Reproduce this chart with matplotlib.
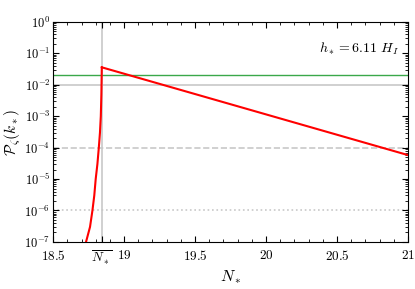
import numpy as np
import matplotlib
matplotlib.use("Agg")
import matplotlib.pyplot as plt
from matplotlib.ticker import MultipleLocator, LogLocator, NullFormatter, FuncFormatter

plt.rcParams["mathtext.fontset"] = "cm"
plt.rcParams["font.family"] = "serif"
plt.rcParams["font.serif"] = ["DejaVu Serif"]

# values
N_bar = 18.843
N_rise = [18.732, 18.760, 18.777, 18.790, 18.800, 18.812, 18.822, 18.830, 18.836, 18.840, 18.843]
P_rise = [1e-7, 3e-7, 1e-6, 3e-6, 1e-5, 3e-5, 1e-4, 3e-4, 1e-3, 5e-3, 0.036]
N_fall = [18.843, 21.0]
P_fall = [0.036, 5.8e-5]
P_green = 0.0205
P_refs = [1e-2, 1e-4, 1e-6]
ref_styles = ["-", "--", ":"]

fig = plt.figure(figsize=(4.15, 2.89), dpi=100)
ax = fig.add_axes([0.128, 0.163, 0.855, 0.761])

ax.axvline(N_bar, color="#c8c8c8", lw=1.2, zorder=1)
for p, ls in zip(P_refs, ref_styles):
    ax.axhline(p, color="#c8c8c8", lw=1.2, ls=ls, zorder=1)
ax.axhline(P_green, color="#3aa84a", lw=1.0, zorder=2)
ax.plot(N_rise, P_rise, color="red", lw=1.5, zorder=3)
ax.plot(N_fall, P_fall, color="red", lw=1.5, zorder=3)

ax.set_yscale("log")
ax.set_xlim(18.5, 21)
ax.set_ylim(1e-7, 1)

ax.set_xticks([18.5, N_bar, 19, 19.5, 20, 20.5, 21])
ax.set_xticklabels(["$18.5$", r"$\overline{N_*}$", "$19$", "$19.5$", "$20$", "$20.5$", "$21$"])
ax.xaxis.set_minor_locator(MultipleLocator(0.1))
ax.yaxis.set_major_locator(LogLocator(base=10, numticks=10))
ax.yaxis.set_major_formatter(FuncFormatter(lambda v, _: r"$10^{%d}$" % round(np.log10(v))))
ax.yaxis.set_minor_locator(LogLocator(base=10, subs=np.arange(2, 10), numticks=20))
ax.yaxis.set_minor_formatter(NullFormatter())
ax.tick_params(which="both", direction="in", top=True, right=True, labelsize=9, pad=2)
ax.tick_params(axis="x", pad=5, labelsize=9.5)
ax.tick_params(which="major", length=4)
ax.tick_params(which="minor", length=2)

ax.set_xlabel("$N_*$", fontsize=11.5, labelpad=1)
ax.set_ylabel(r"$\mathcal{P}_\zeta(k_*)$", fontsize=11, va="center")
ax.yaxis.set_label_coords(-0.113, 0.5)
ax.text(0.975, 0.88, r"$h_* = 6.11\ H_I$", transform=ax.transAxes,
        ha="right", va="center", fontsize=10)

fig.savefig("out.png", dpi=100)
